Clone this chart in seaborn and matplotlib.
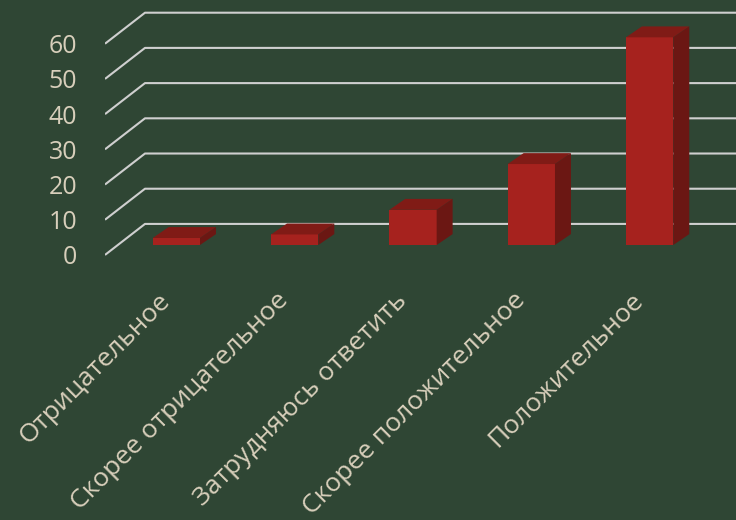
import matplotlib
matplotlib.use('Agg')
import matplotlib.pyplot as plt
import matplotlib.transforms as mtransforms
import numpy as np
import pandas as pd
import seaborn as sb
from matplotlib.patches import Polygon

# data
categories = ['Отрицательное', 'Скорее отрицательное', 'Затрудняюсь ответить',
              'Скорее положительное', 'Положительное']
values = [2, 3, 10, 23, 59]
y_ticks = [0, 10, 20, 30, 40, 50, 60]

df = pd.DataFrame({'answer': categories, 'value': values})

bg = '#2f4634'
txt = '#d8cfbb'
front = '#a6221e'
top = '#801b16'
side = '#6b1713'
grid = '#cfcfcf'

sb.set_style('white')
plt.rcParams['font.family'] = ['Open Sans', 'DejaVu Sans']

fig = plt.figure(figsize=(7.36, 5.2), dpi=100, facecolor=bg)
ax = fig.add_axes([105/736, 230/520, 631/736, 290/520])
ax.set_facecolor(bg)

sb.barplot(x='answer', y='value', data=df, color=front, width=0.4,
           saturation=1, ax=ax, zorder=3, linewidth=0)

# 3d look: floor depth and bar depth
floor_dx, floor_dy = 0.338, 8.81   # full depth of the floor
front_frac = 0.32                  # where bars stand on the floor
bar_dx, bar_dy = 0.135, 3.1

# gridlines: diagonal on the floor side + horizontal on the back wall
x_front = -front_frac * floor_dx - 0.495
for v in y_ticks:
    y0 = v - front_frac * floor_dy
    xb = x_front + floor_dx
    yb = y0 + floor_dy
    ax.plot([x_front, xb, 10], [y0, yb, yb], color=grid, lw=1.5,
            zorder=1, solid_capstyle='butt')

for p in list(ax.patches):
    x, w, h = p.get_x(), p.get_width(), p.get_height()
    ax.add_patch(Polygon([(x, h), (x + w, h), (x + w + bar_dx, h + bar_dy),
                          (x + bar_dx, h + bar_dy)], closed=True,
                         facecolor=top, edgecolor='none', zorder=3))
    ax.add_patch(Polygon([(x + w, 0), (x + w + bar_dx, bar_dy),
                          (x + w + bar_dx, h + bar_dy), (x + w, h)], closed=True,
                         facecolor=side, edgecolor='none', zorder=3))

ax.set_xlim(x_front, 4.73)
ax.set_ylim(-12.78, 69.6)

ax.set_yticks([v - front_frac * floor_dy for v in y_ticks])
ax.set_yticklabels([str(v) for v in y_ticks])
ax.tick_params(axis='y', length=0, pad=20, labelsize=18, labelcolor=txt)
ax.tick_params(axis='x', length=0, pad=5, labelsize=19, labelcolor=txt)
shift = mtransforms.ScaledTranslation(-10/100, 0, fig.dpi_scale_trans)
for lab in ax.get_xticklabels():
    lab.set_rotation(45)
    lab.set_ha('right')
    lab.set_va('center')
    lab.set_rotation_mode('anchor')
    lab.set_transform(lab.get_transform() + shift)
ax.set_xlabel('')
ax.set_ylabel('')
for s in ax.spines.values():
    s.set_visible(False)

plt.savefig('out.png', dpi=100, facecolor=bg)
